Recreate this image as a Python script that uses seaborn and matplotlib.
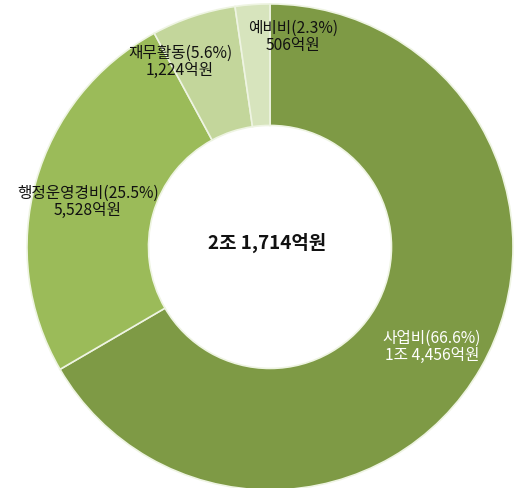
import matplotlib
matplotlib.use('Agg')
import matplotlib.pyplot as plt
import seaborn as sns

# 예산 구성 (억원)
items = ['사업비', '행정운영경비', '재무활동', '예비비']
shares = [66.6, 25.5, 5.6, 2.3]
amounts = ['1조 4,456억원', '5,528억원', '1,224억원', '506억원']
total_label = '2조 1,714억원'
colors = ['#7E9A45', '#9BBB59', '#C3D69B', '#D7E4BD']

sns.set_theme(style='white')
plt.rcParams['font.family'] = ['Noto Sans CJK KR', 'DejaVu Sans']

fig = plt.figure(figsize=(5.15, 4.89), dpi=100)
ax = fig.add_axes([0.0524, -0.004, 0.9437, 0.9939])

ax.pie(shares, colors=colors, startangle=90, counterclock=False,
       radius=1.0,
       wedgeprops=dict(width=0.5, edgecolor='#EEF4E2', linewidth=1.2))
ax.set_aspect('auto')
ax.set_xlim(-1, 1)
ax.set_ylim(-1, 1)
ax.axis('off')

# label placement (data units)
label_pos = [(0.667, -0.407), (-0.749, 0.189), (-0.370, 0.765), (0.095, 0.868)]
text_col = ['white', '#111111', '#111111', '#111111']
for name, pct, amt, (x, y), c in zip(items, shares, amounts, label_pos, text_col):
    ax.text(x, y, f'{name}({pct}%)\n{amt}', ha='center', va='center',
            fontsize=11.3, color=c, linespacing=1.05)

ax.text(-0.012, 0.02, total_label, ha='center', va='center',
        fontsize=13.6, fontweight='bold', color='#111111')

plt.savefig('out.png', dpi=100)
